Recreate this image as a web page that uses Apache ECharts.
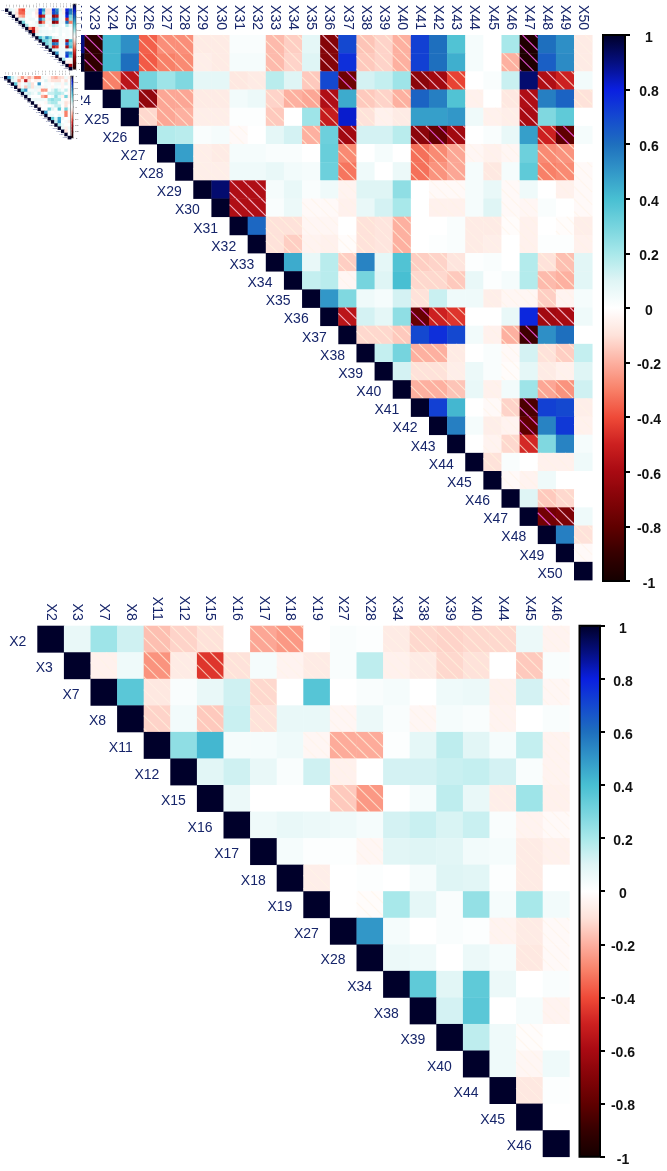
<!DOCTYPE html>
<html>
<head>
<meta charset="utf-8">
<style>html,body{margin:0;padding:0;background:#fff}#chart{width:667px;height:1171px}</style>
<script src="https://cdn.jsdelivr.net/npm/echarts@6/dist/echarts.min.js"></script>
</head>
<body>
<div id="chart"></div>
<script>
// Correlation panels: each row lists its values from the first drawn cell rightwards.
const upperColumns = ['X22','X23','X24','X25','X26','X27','X28','X29','X30','X31','X32','X33','X34','X35','X36','X37','X38','X39','X40','X41','X42','X43','X44','X45','X46','X47','X48','X49','X50'];
const upperRowNames = ['X21'].concat(upperColumns);
const upperRows = [
  [.9,-.92,.42,.52,-.36,-.27,-.27,-.07,-.07,.02,.02,-.18,-.14,.08,-.7,.7,-.16,-.13,-.2,.72,.6,.38,.03,0,.2,-.97,.6,.52,-.07],
  [1,-.92,.42,.6,-.37,-.3,-.28,-.06,-.07,.03,.03,-.18,-.13,.1,-.7,.76,-.15,-.13,-.2,.72,.6,.44,.03,0,-.2,-.97,.64,.53,-.07],
  [1,-.3,-.55,.3,.22,.28,.08,.08,-.08,-.07,.17,.1,-.15,.7,-.76,.12,.15,.22,-.68,-.62,-.42,0,.02,.14,.92,-.58,-.5,.04],
  [1,.3,-.66,-.22,-.22,-.07,-.07,.04,.06,-.13,-.2,-.22,-.58,.45,-.15,-.13,-.2,.63,.56,.38,-.05,0,-.08,-.58,.56,.63,-.1],
  [1,-.12,-.22,-.2,-.06,-.06,.01,.01,-.15,0,.22,-.52,.82,-.1,-.05,-.07,.48,.48,.5,.05,-.05,-.06,-.6,.28,.35,0],
  [1,.18,.17,.02,.03,-.02,0,.08,.12,-.2,.32,-.62,.12,.12,.17,-.68,-.78,-.62,0,.02,.07,.48,-.5,-.8,.03],
  [1,.48,-.06,-.07,.03,.03,.02,.02,0,.33,-.28,0,.03,0,-.33,-.28,-.22,-.03,-.05,-.03,.32,-.28,-.26,0],
  [1,-.06,-.06,.05,.05,.07,.04,.03,.32,-.32,.05,0,.06,-.33,-.26,-.22,.03,-.08,.03,.35,-.3,-.28,-.02],
  [1,.92,-.58,-.58,.03,.07,.02,.05,-.04,.1,.1,.25,0,-.02,-.02,.03,.07,-.02,.05,0,-.05,-.02],
  [1,-.58,-.58,.02,.06,-.02,-.02,-.05,.07,.12,.2,0,-.05,-.05,.03,.1,-.02,-.03,.02,0,-.02],
  [1,.62,-.1,-.1,-.03,-.03,0,-.1,-.09,-.2,0,0,.02,-.07,-.07,-.01,-.05,0,-.01,-.06],
  [1,-.1,-.14,-.04,-.05,-.01,-.1,-.09,-.2,0,.01,.02,-.07,-.06,0,-.05,.01,.01,-.05],
  [1,.45,.07,.17,-.14,.55,.08,.38,-.14,-.13,-.09,.01,.02,0,.18,-.1,-.17,.09],
  [1,.15,.17,-.03,.3,.1,.4,-.12,-.12,-.15,.07,.01,.03,.18,-.18,-.2,.09],
  [1,.5,.28,.05,.03,.12,-.1,.14,.05,.05,-.06,-.03,-.03,-.14,-.04,.03],
  [1,-.55,.12,.08,.25,-.78,-.5,-.45,0,0,.07,.78,-.62,-.6,.05],
  [1,-.12,-.12,-.15,.7,.76,.7,.04,-.05,-.2,-.88,.52,.6,0],
  [1,.15,.3,-.2,-.2,-.07,0,.02,-.02,.12,-.1,-.14,.15],
  [1,.12,-.1,-.1,-.06,.06,.02,-.01,.08,-.07,-.05,.1],
  [1,-.2,-.2,-.16,.07,-.05,.04,.22,-.22,-.26,.13],
  [1,.72,.42,0,-.02,-.13,-.85,.72,.7,-.06],
  [1,.56,.03,-.06,-.04,-.8,.55,.74,-.05],
  [1,0,-.04,-.12,-.48,.28,.55,.03],
  [1,-.1,.02,0,-.05,-.05,.05],
  [1,-.02,-.04,.05,0,0],
  [1,.1,-.15,-.12,0],
  [1,-.75,-.72,.05],
  [1,.56,-.1],
  [1,-.02],
  [1]
];

const lowerColumns = ['X2','X3','X7','X8','X11','X12','X15','X16','X17','X18','X19','X27','X28','X34','X38','X39','X40','X44','X45','X46'];
const lowerRows = [
  [1,.07,.22,.13,-.17,-.13,-.1,0,-.22,-.25,0,.02,.01,-.07,-.12,-.13,-.12,-.12,.06,-.04],
  [1,-.05,.05,-.26,-.07,-.45,-.1,.03,-.04,-.07,.02,.16,-.05,-.07,-.12,-.1,0,-.15,.02],
  [1,.36,-.08,.02,.07,.13,-.12,0,.37,0,.02,.03,0,.05,.06,-.05,.12,-.03],
  [1,-.13,.04,-.15,.14,-.1,.07,.07,-.03,.06,.02,-.03,.03,.02,-.04,0,.02],
  [1,.25,.42,.03,.03,.05,-.03,-.21,-.21,.01,.08,.16,.09,.03,.15,-.04],
  [1,.09,.13,.07,.02,.13,-.05,0,.12,.12,.14,.15,.12,.02,-.04],
  [1,.06,0,0,0,-.15,-.25,0,.03,.16,.07,-.06,.22,-.05],
  [1,.05,.07,.06,.05,.03,.12,.14,.11,.14,.02,-.04,-.02],
  [1,.03,.01,.01,-.03,.09,.1,.09,.04,.03,-.07,-.05],
  [1,-.06,0,.01,0,.03,.1,.09,.01,-.07,0],
  [1,0,-.01,.2,.08,.02,.24,.03,.2,.04],
  [1,.5,.03,0,.02,.01,-.04,-.07,-.02],
  [1,.06,.05,0,.06,.03,-.08,-.02],
  [1,.35,.09,.35,.06,0,.02],
  [1,.12,.36,0,.03,-.04],
  [1,.16,.05,-.01,0],
  [1,.05,-.03,.05],
  [1,-.08,.01],
  [1,0],
  [1]
];

const insetColumns = ['X1','X2','X3','X4','X5','X6','X7','X8','X9','X10','X11','X12','X13','X14','X15','X16','X17','X18','X19','X20'];
const insetARows = [
  [1,.1,.05,-.05,-.35,-.4,.03,.05,.05,-.08,.75,.5,-.1,-.1,.75,.55,.1,-.05,.8,.6],
  [1,.05,-.1,-.35,-.35,.05,.05,0,-.1,.8,.3,-.1,-.1,.7,.6,.05,-.05,.85,.55],
  [1,-.05,-.2,-.25,.03,.03,0,-.05,-.6,-.5,.05,.05,-.65,-.55,.05,.03,.8,.3],
  [1,.1,.1,.02,.05,.05,0,.6,.3,-.05,-.08,.6,.5,.05,.02,-.5,.25],
  [1,.3,.03,0,.02,.08,-.6,-.3,.05,.03,-.7,-.6,.05,.05,.6,-.3],
  [1,.2,.03,.03,.05,.15,.1,0,-.05,.15,.1,.03,0,.2,.05],
  [1,-.3,-.5,-.1,.05,.03,.03,0,.05,.02,.05,.03,.03,0],
  [1,-.6,-.1,.08,.05,.05,.03,.05,.02,.05,.02,.03,.02],
  [1,.1,.05,.03,.05,.03,0,0,.05,0,.03,.02],
  [1,.4,.2,.5,.3,.1,.05,.03,.02,.03,.02],
  [1,.35,.3,.2,-.65,-.6,.05,.05,-.6,.4],
  [1,.3,.2,.6,.55,.05,.05,.65,.3],
  [1,.2,-.55,-.45,.05,.03,-.6,.4],
  [1,.15,.1,.05,.05,.1,.05],
  [1,.5,.05,.03,.65,.5],
  [1,.05,.03,.75,.35],
  [1,.2,.03,.03],
  [1,-.05,-.05],
  [1,-.6],
  [1]
];
const insetBRows = [
  [1,.5,.15,.05,-.1,-.25,-.1,-.2,-.1,-.3,-.3,.05,.02,-.03,-.15,-.2,-.12,-.1,.05,-.05],
  [1,.1,.05,-.25,-.05,-.55,-.1,0,-.05,-.03,.02,.1,-.05,-.1,-.1,-.1,-.02,-.1,.02],
  [1,.35,-.08,.02,.07,.13,-.1,0,.5,0,.03,.03,0,.05,.05,-.03,.1,-.02],
  [1,-.1,.04,-.15,.14,-.1,.07,.07,-.03,.05,.02,-.03,.03,.02,-.03,0,.02],
  [1,.3,.5,.03,.03,.05,-.03,-.25,-.25,.01,.1,.2,.1,.03,.15,-.03],
  [1,.1,.13,.07,.02,.15,-.05,0,.15,.15,.2,.2,.15,.02,-.03],
  [1,.06,0,0,0,-.2,-.3,0,.05,.25,.1,-.05,.3,-.05],
  [1,.05,.07,.06,.05,.03,.2,.25,.2,.2,.02,-.03,-.02],
  [1,.03,.01,.01,-.03,.15,.2,.2,.05,.03,-.1,-.05],
  [1,-.06,0,.01,0,.05,.15,.15,.01,-.1,0],
  [1,0,-.01,.3,.1,.02,.35,.03,.3,.05],
  [1,.5,.03,0,.02,.01,-.04,-.3,-.02],
  [1,.06,.05,0,.06,.03,-.3,-.02],
  [1,.35,.1,.45,.06,0,.02],
  [1,.15,.5,0,.03,-.05],
  [1,.2,.05,-.01,0],
  [1,.05,-.05,.05],
  [1,-.1,.01],
  [1,0],
  [1]
];

const scaleColors = ['#140000','#360000','#600000','#840408','#a80a12','#cc2020','#ef4a38','#f88068','#fdb0a0','#fee2da','#ffffff',
  '#dff5f5','#a8e8ea','#76d4de','#48bfd2','#3297c8','#1e6fbe','#1448d0','#0a1fe0','#050f80','#00002a'];
const labelColor = '#16256a';
const fontFamily = '"Liberation Sans", Arial, sans-serif';

// One cell per value; negative cells get diagonal shading lines that run across neighbours.
function cellRenderer(columns, rows, opts) {
  return function (params, api) {
    const col = api.value(0), row = api.value(1), v = api.value(2);
    const c = api.coord([col, row]);
    const s = api.size([1, 1]);
    const x0 = c[0] - s[0] / 2, y0 = c[1] - s[1] / 2, x1 = x0 + s[0], y1 = y0 + s[1];
    const children = [{
      type: 'rect',
      shape: { x: x0, y: y0, width: s[0] + 0.4, height: s[1] + 0.4 },
      style: { fill: api.visual('color') }
    }];
    if (opts.hatch && v < 0) {
      const step = opts.hatch;
      const stroke = v <= -0.75 ? 'rgba(238,90,225,0.9)'
        : v <= -0.55 ? 'rgba(255,205,225,0.85)'
        : v <= -0.1 ? 'rgba(255,243,222,0.72)' : 'rgba(255,243,230,0.6)';
      const first = Math.ceil((x0 - y1) / step), last = Math.floor((x1 - y0) / step);
      for (let k = first; k <= last; k++) {
        const d = k * step;
        const a = Math.max(x0, y0 + d), b = Math.min(x1, y1 + d);
        if (b - a > 0.3) {
          children.push({
            type: 'line',
            shape: { x1: a, y1: a - d, x2: b, y2: b - d },
            style: { stroke: stroke, lineWidth: 1.1 }
          });
        }
      }
    }
    if (columns[col] === rows[row]) {
      children.push({
        type: 'text',
        style: {
          text: rows[row], x: x0 - opts.gap, y: c[1] + opts.labelShift,
          align: 'right', verticalAlign: 'middle',
          fill: labelColor, font: opts.fontSize + 'px ' + fontFamily
        }
      });
    }
    return { type: 'group', children: children };
  };
}

function toTriples(rows, startOf) {
  const out = [];
  rows.forEach(function (vals, r) {
    vals.forEach(function (v, i) { out.push([startOf(r) + i, r, v]); });
  });
  return out;
}

const panels = [
  { columns: upperColumns, rows: upperRowNames, values: upperRows, start: function (r) { return Math.max(0, r - 1); },
    box: { left: 66.37, top: 35, width: 525.77, height: 545 },
    bar: { left: 603, top: 35, width: 22, height: 546 },
    fontSize: 14, margin: 5, gap: 11.5, labelShift: 3, hatch: 12.5, tick: 5, barFont: 14, barMargin: 24, barLine: 2, z: 3 },
  { columns: lowerColumns, rows: lowerColumns, values: lowerRows, start: function (r) { return r; },
    box: { left: 37.3, top: 625.7, width: 532, height: 531 },
    bar: { left: 579.5, top: 625.7, width: 20.5, height: 531 },
    fontSize: 14, margin: 5, gap: 11, labelShift: 3, hatch: 13, tick: 5, barFont: 14, barMargin: 23, barLine: 2, z: 3 },
  { columns: insetColumns, rows: insetColumns, values: insetARows, start: function (r) { return r; },
    box: { left: 5, top: 4, width: 67, height: 66 },
    bar: { left: 73, top: 4, width: 3, height: 65.5 },
    fontSize: 2.5, margin: 1, gap: 0.6, labelShift: 0, hatch: 0, tick: 0.6, barFont: 2.5, barMargin: 3, barLine: 0.4, z: 20 },
  { columns: insetColumns, rows: insetColumns, values: insetBRows, start: function (r) { return r; },
    box: { left: 4, top: 76, width: 67, height: 63 },
    bar: { left: 70.5, top: 76, width: 2.7, height: 62 },
    fontSize: 2.5, margin: 1, gap: 0.6, labelShift: 0, hatch: 0, tick: 0.6, barFont: 2.5, barMargin: 3, barLine: 0.4, z: 20 }
];

const option = {
  animation: false,
  backgroundColor: '#ffffff',
  grid: [], xAxis: [], yAxis: [], series: [], visualMap: [],
  // Keeps the clipped part of the large panel away from the two small ones.
  graphic: { elements: [{ type: 'rect', z: 10, silent: true, shape: { x: 0, y: 0, width: 81, height: 146 }, style: { fill: '#ffffff' } }] }
};

panels.forEach(function (p, n) {
  const big = p.fontSize > 5;
  option.grid.push(Object.assign({ containLabel: false, show: false, z: p.z }, p.box));
  option.xAxis.push({
    type: 'category', gridIndex: option.grid.length - 1, position: 'top', data: p.columns, z: p.z,
    axisLine: { show: false }, axisTick: { show: false }, splitLine: { show: false },
    axisLabel: {
      interval: 0, rotate: 90, margin: p.margin, color: big ? labelColor : '#666', fontSize: p.fontSize, fontFamily: fontFamily,
      padding: big ? [3, 0, 0, 0] : 0
    }
  });
  option.yAxis.push({
    type: 'category', gridIndex: option.grid.length - 1, inverse: true, data: p.rows, show: false
  });
  const axisIndex = option.xAxis.length - 1;
  option.series.push({
    type: 'custom', xAxisIndex: axisIndex, yAxisIndex: axisIndex, z: p.z, silent: true, clip: false,
    encode: { x: 0, y: 1 },
    data: toTriples(p.values, p.start),
    renderItem: cellRenderer(p.columns, p.rows, p)
  });
  option.visualMap.push({
    type: 'continuous', seriesIndex: n, dimension: 2, min: -1, max: 1, show: true,
    left: p.bar.left, top: p.bar.top, itemWidth: p.bar.width, itemHeight: p.bar.height,
    padding: 0, calculable: false, hoverLink: false, text: null, showLabel: false,
    z: p.z, inRange: { color: scaleColors }, textStyle: { fontSize: 1, color: 'transparent' }
  });
});

// Colour-scale frames with their tick marks and numbers.
panels.forEach(function (p) {
  const big = p.barFont > 5;
  option.grid.push(Object.assign({
    containLabel: false, show: true, backgroundColor: 'transparent', borderColor: '#000', borderWidth: p.barLine, z: p.z + 2
  }, p.bar));
  const g = option.grid.length - 1;
  option.xAxis.push({ type: 'category', gridIndex: g, data: ['scale'], show: false });
  option.yAxis.push({
    type: 'value', gridIndex: g, position: 'right', min: -1, max: 1, interval: 0.2, z: p.z + 2,
    splitLine: { show: false },
    axisLine: { show: false },
    axisTick: { show: true, length: p.tick, lineStyle: { color: '#000', width: p.barLine } },
    axisLabel: {
      show: true, margin: p.barMargin, align: 'center', color: '#111', fontSize: p.barFont,
      fontWeight: big ? 'bold' : 'normal', fontFamily: fontFamily,
      verticalAlign: big ? 'top' : 'middle', lineHeight: big ? 6 : 3,
      showMinLabel: true, showMaxLabel: true
    }
  });
});

const chart = echarts.init(document.getElementById('chart'), null, { renderer: 'canvas' });
chart.setOption(option);
</script>
</body>
</html>
